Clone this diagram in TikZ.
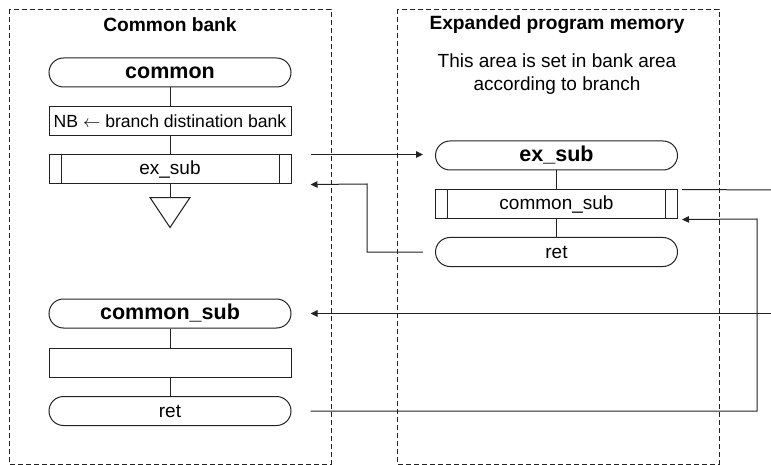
\documentclass[tikz,border=0pt]{standalone}
\usepackage{fontspec}
\setmainfont{Liberation Sans}
\usetikzlibrary{arrows.meta,shapes.geometric}
\definecolor{ln}{HTML}{222222}
\tikzset{
  regtxt/.style={font=\fontsize{19}{23}\selectfont},
  boldtxt/.style={font=\fontsize{21.5}{25}\selectfont\bfseries},
  titletxt/.style={font=\fontsize{19.2}{23}\selectfont\bfseries},
  term/.style={draw=ln, line width=1pt, rectangle, rounded corners=14.5pt, minimum width=242pt, minimum height=29pt, inner sep=0pt},
  procbox/.style={draw=ln, line width=1pt, rectangle, minimum width=242pt, minimum height=29pt, inner sep=0pt},
  area/.style={draw=ln, line width=0.9pt, dash pattern=on 5pt off 3pt},
  conn/.style={draw=ln, line width=1pt},
  arr/.style={conn, -{Triangle[length=7pt,width=6.5pt]}},
}
\newcommand{\subrlines}[1]{%
  \draw[conn] ([xshift=12.5pt]#1.north west) -- ([xshift=12.5pt]#1.south west);
  \draw[conn] ([xshift=-12.5pt]#1.north east) -- ([xshift=-12.5pt]#1.south east);}
\begin{document}
\begin{tikzpicture}[x=1pt,y=-1pt]
\useasboundingbox (0,0) rectangle (771,465);
% areas
\draw[area] (9,9) rectangle (331,464);
\draw[area] (397,9) rectangle (719,464);
\node[titletxt] (t1) at (170,25) {Common bank};
\node[titletxt] (t2) at (557,25) {Expanded program memory};
\node[regtxt, align=center, text height=14pt, text depth=4pt] (note) at (557,85.5) {This area is set in bank area\\[0pt]according to branch};
% left flow
\node[term, boldtxt] (common) at (170,72.5) {common};
\node[procbox, font=\fontsize{17.6}{22}\selectfont] (nb) at (170,121.5) {NB $\leftarrow$ branch distination bank};
\node[procbox, regtxt] (exsubcall) at (170,169.5) {ex\_sub};
\subrlines{exsubcall}
\node[draw=ln, line width=1pt, isosceles triangle, shape border rotate=-90, isosceles triangle stretches, minimum width=40pt, minimum height=30pt, inner sep=0pt, anchor=north] (tri) at (170,197) {};
\draw[conn] (common.south) -- (nb.north);
\draw[conn] (nb.south) -- (exsubcall.north);
\draw[conn] (exsubcall.south) -- (tri.north);
\node[term, boldtxt] (commonsub) at (170,313.5) {common\_sub};
\node[procbox] (blank) at (170,363) {};
\node[term, regtxt] (retL) at (170,411) {ret};
\draw[conn] (commonsub.south) -- (blank.north);
\draw[conn] (blank.south) -- (retL.north);
% right flow
\node[term, boldtxt] (exsub) at (556.5,155.5) {ex\_sub};
\node[procbox, regtxt] (commonsubcall) at (556.5,204.5) {common\_sub};
\subrlines{commonsubcall}
\node[term, regtxt] (retR) at (556.5,252) {ret};
\draw[conn] (exsub.south) -- (commonsubcall.north);
\draw[conn] (commonsubcall.south) -- (retR.north);
% connectors
\coordinate (c1) at (367,184);
\coordinate (c2) at (757,219);
\coordinate (outR) at (771,190);
\coordinate (inR) at (771,313.5);
\draw[arr, shorten >=12pt] ([xshift=19pt]exsubcall.north east) -- (exsub.west |- exsubcall.north east);
\draw[arr] ([xshift=-12pt]retR.west) -| (c1) -- ([xshift=19pt]exsubcall.south east);
\draw[conn] ([xshift=4pt]commonsubcall.north east) -- (outR);
\draw[arr] (inR) -- ([xshift=19pt]commonsub.east);
\draw[arr] ([xshift=19pt]retL.east) -| (c2) -- ([xshift=4pt]commonsubcall.south east);
\end{tikzpicture}
\end{document}
